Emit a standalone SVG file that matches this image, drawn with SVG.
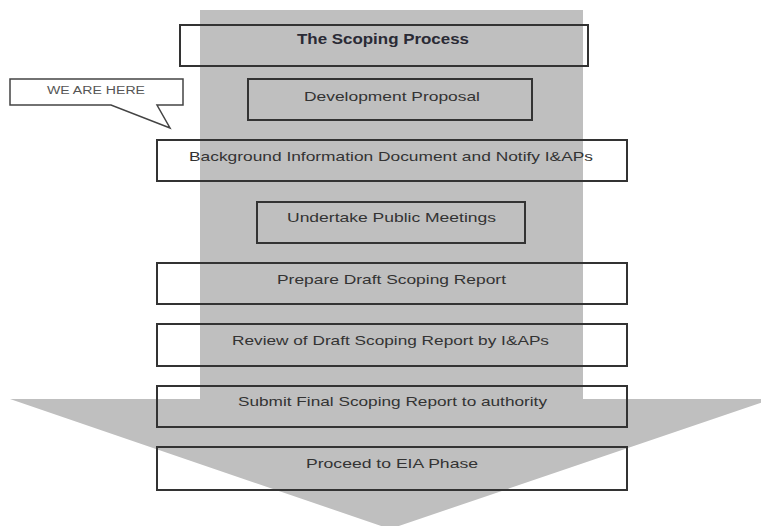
<svg xmlns="http://www.w3.org/2000/svg" width="761" height="526" viewBox="0 0 761 526">
  <style>
    .box { fill: none; stroke: #333333; stroke-width: 2; }
    .lbl { font-family: "Liberation Sans", Arial, sans-serif; font-size: 13px; fill: #333333; text-anchor: start; }
    .title { font-weight: bold; font-size: 15px; fill: #2a2a35; }
    .callout { fill: #ffffff; stroke: #444444; stroke-width: 1.5; stroke-linejoin: miter; }
    .note { font-family: "Liberation Sans", Arial, sans-serif; font-size: 10px; fill: #555555; }
  </style>

  <rect width="761" height="526" fill="#ffffff"/>

  <!-- broad downward arrow behind the process steps -->
  <g id="flow-arrow">
    <polygon points="200,10 583,10 583,399 772,399 390,529 10,399 200,399" fill="#bfbfbf"/>
  </g>

  <g id="connectors"></g>

  <g id="title">
    <rect class="box" x="180" y="25" width="408" height="41"/>
    <text class="lbl title" x="297" y="44" textLength="172" lengthAdjust="spacingAndGlyphs">The Scoping Process</text>
  </g>

  <g id="we-are-here">
    <path class="callout" d="M10,79 H183 V105 H157 L170,128 L111,105 H10 Z"/>
    <text class="note" x="47" y="94" textLength="98" lengthAdjust="spacingAndGlyphs">WE ARE HERE</text>
  </g>

  <g id="development-proposal">
    <rect class="box" x="248" y="79" width="284" height="41"/>
    <text class="lbl" x="304" y="101" textLength="176" lengthAdjust="spacingAndGlyphs">Development Proposal</text>
  </g>

  <g id="background-information">
    <rect class="box" x="157" y="140" width="470" height="41"/>
    <text class="lbl" x="189" y="161" textLength="404" lengthAdjust="spacingAndGlyphs">Background Information Document and Notify I&amp;APs</text>
  </g>

  <g id="public-meetings">
    <rect class="box" x="257" y="202" width="268" height="41"/>
    <text class="lbl" x="287" y="222" textLength="209" lengthAdjust="spacingAndGlyphs">Undertake Public Meetings</text>
  </g>

  <g id="draft-report">
    <rect class="box" x="157" y="263" width="470" height="41"/>
    <text class="lbl" x="277" y="284" textLength="229" lengthAdjust="spacingAndGlyphs">Prepare Draft Scoping Report</text>
  </g>

  <g id="review-draft">
    <rect class="box" x="157" y="324" width="470" height="42"/>
    <text class="lbl" x="232" y="345" textLength="317" lengthAdjust="spacingAndGlyphs">Review of Draft Scoping Report by I&amp;APs</text>
  </g>

  <g id="submit-final">
    <rect class="box" x="157" y="386" width="470" height="41"/>
    <text class="lbl" x="238" y="406" textLength="309" lengthAdjust="spacingAndGlyphs">Submit Final Scoping Report to authority</text>
  </g>

  <g id="eia-phase">
    <rect class="box" x="157" y="447" width="470" height="43"/>
    <text class="lbl" x="306" y="468" textLength="172" lengthAdjust="spacingAndGlyphs">Proceed to EIA Phase</text>
  </g>
</svg>
